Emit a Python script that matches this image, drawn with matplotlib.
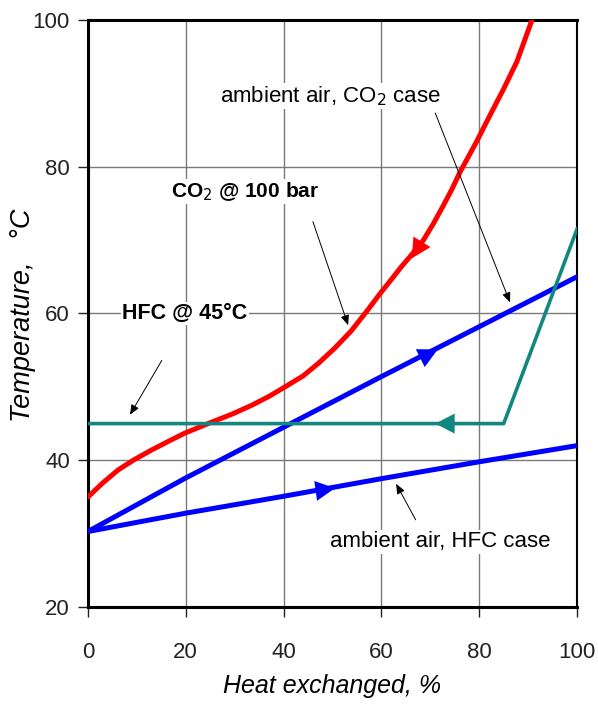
import numpy as np
import matplotlib.pyplot as plt

plt.rcParams['font.family'] = ['Liberation Sans Narrow', 'Liberation Sans', 'DejaVu Sans']

# CO2 gas cooler @ 100 bar (red)
co2_x = [0, 3, 6.2, 9.5, 13, 16.5, 19.8, 25.3, 29.5, 33.5, 37, 40.3, 44, 47.1, 50.5, 53.8,
         57, 59.6, 62, 64, 66.3, 68.6, 70.6, 72.5, 74.4, 76.1, 79.3, 82.2, 85, 87.7, 90.8]
co2_y = [35, 36.9, 38.7, 40.1, 41.4, 42.6, 43.7, 45.2, 46.3, 47.5, 48.7, 50, 51.5, 53.2, 55.3, 57.6,
         60.3, 62.6, 64.6, 66.3, 68.1, 70, 72.2, 74.5, 76.9, 79.3, 83.2, 87, 90.6, 94.3, 100]

# ambient air heated, CO2 case (blue, upper)
air_co2_x = [0, 20, 40, 60, 80, 100]
air_co2_y = [30.3, 37.6, 44.5, 51.4, 58.2, 65]

# ambient air heated, HFC case (blue, lower)
air_hfc_x = [0, 20, 40, 60, 80, 100]
air_hfc_y = [30.3, 32.8, 35.1, 37.5, 39.8, 42]

# HFC condensing @ 45 C (teal)
hfc_x = [0, 85, 100]
hfc_y = [45, 45, 71.5]

fig = plt.figure(figsize=(5.98, 7.06), dpi=100)
ax = fig.add_axes([0.147, 0.140, 0.818, 0.832])

ax.plot(co2_x, co2_y, color='#ff0000', lw=3.6, solid_capstyle='round',
        solid_joinstyle='round', zorder=3)
ax.plot(air_co2_x, air_co2_y, color='#0000ff', lw=3.6, zorder=3)
ax.plot(air_hfc_x, air_hfc_y, color='#0000ff', lw=3.6, zorder=3)
ax.plot(hfc_x, hfc_y, color='#11877f', lw=2.6, zorder=3)

# direction arrows on the curves
def flow_arrow(tail, tip, color):
    ax.annotate('', xy=tip, xytext=tail,
                arrowprops=dict(arrowstyle='-|>,head_length=0.7,head_width=0.36',
                                mutation_scale=20, color=color, lw=0,
                                shrinkA=0, shrinkB=0), zorder=4)

flow_arrow((70, 71.6), (66.2, 67.5), '#ff0000')
flow_arrow((64, 52.6), (71.5, 55.1), '#0000ff')
flow_arrow((44, 35.6), (50.5, 36.2), '#0000ff')
flow_arrow((78, 45), (71, 45), '#11877f')

# labels with leader arrows
box = dict(facecolor='white', edgecolor='none', pad=1)
arr = dict(arrowstyle='-|>,head_length=0.6,head_width=0.25', color='black', lw=0.7,
           shrinkA=0, shrinkB=0)
ax.annotate('ambient air, CO$_2$ case', xy=(86.3, 61.5), xytext=(49.5, 89.6),
            ha='center', va='center', fontsize=16, bbox=box, zorder=5)
ax.annotate('', xy=(86.3, 61.5), xytext=(71, 87.3), arrowprops=arr, zorder=5)

ax.annotate('CO$_2$ @ 100 bar', xy=(53.2, 58.4), xytext=(32.1, 76.6),
            ha='center', va='center', fontsize=15, fontweight='bold', bbox=box, zorder=5)
ax.annotate('', xy=(53.2, 58.4), xytext=(46, 72.5), arrowprops=arr, zorder=5)

ax.annotate('HFC @ 45°C', xy=(8.6, 46.2), xytext=(19.8, 60),
            ha='center', va='center', fontsize=15.5, fontweight='bold', bbox=box, zorder=5)
ax.annotate('', xy=(8.6, 46.2), xytext=(15.1, 53.6), arrowprops=arr, zorder=5)

ax.annotate('ambient air, HFC case', xy=(63, 36.8), xytext=(72, 28.9),
            ha='center', va='center', fontsize=16, bbox=box, zorder=5)
ax.annotate('', xy=(63, 36.8), xytext=(67, 31.9), arrowprops=arr, zorder=5)

ax.set_xlim(0, 100)
ax.set_ylim(20, 100)
ax.set_xticks(np.arange(0, 101, 20))
ax.set_yticks(np.arange(20, 101, 20))
ax.grid(True, color='#7a7a7a', lw=1.0, zorder=0)
ax.set_axisbelow(True)
for side in ['left', 'bottom', 'top']:
    ax.spines[side].set_linewidth(2.2)
ax.spines['right'].set_linewidth(1.5)
ax.tick_params(direction='out', length=7, width=1, labelsize=16, pad=6, colors='#222222')
ax.tick_params(axis='x', pad=18)

ax.set_xlabel('Heat exchanged, %', fontsize=18, fontstyle='italic', labelpad=8)
ax.set_ylabel('Temperature,   °C', fontsize=19.5, fontstyle='italic')
ax.yaxis.set_label_coords(-0.106, 0.497)

fig.savefig('out.png', dpi=100)
